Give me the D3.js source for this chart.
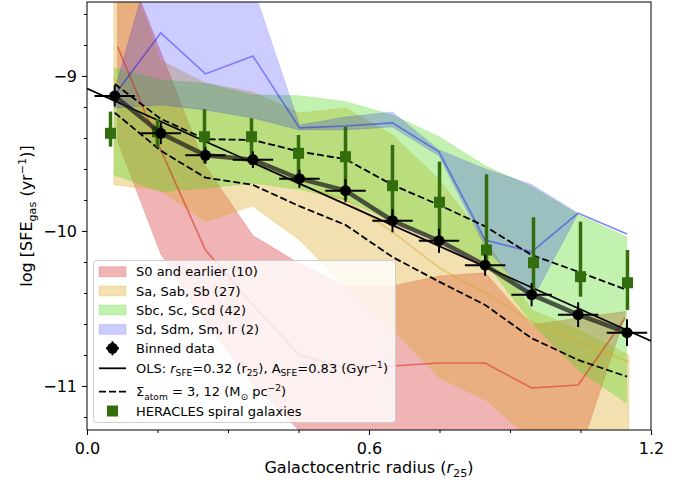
<!DOCTYPE html>
<html>
<head>
<meta charset="utf-8">
<script src="https://cdn.jsdelivr.net/npm/d3@7"></script>
<style>
body { margin: 0; background: #fff; }
svg { font-family: "DejaVu Sans", sans-serif; }
</style>
</head>
<body>
<div id="chartArea"></div>
<script>
// Binned data (all galaxies)
let binR = [0.059, 0.157, 0.252, 0.353, 0.452, 0.550, 0.650, 0.749, 0.847, 0.946, 1.045, 1.149];
let binSFE = [-9.129, -9.370, -9.512, -9.540, -9.663, -9.740, -9.934, -10.063, -10.221, -10.411, -10.540, -10.656];
let binRerr = [0.043, 0.043, 0.043, 0.043, 0.043, 0.043, 0.043, 0.043, 0.043, 0.043, 0.043, 0.043];
let binSFEerr = [0.068, 0.07, 0.054, 0.054, 0.059, 0.075, 0.075, 0.078, 0.068, 0.075, 0.08, 0.086];

// OLS fit end points
let olsR = [0, 1.2];
let olsSFE = [-9.081, -10.709];

// Sigma_atom = 3, 12 model curves
let sigma3 = [-9.052, -9.277, -9.408, -9.413, -9.488, -9.537, -9.703, -9.832, -9.97, -10.155, -10.263, -10.381];
let sigma12 = [-9.237, -9.482, -9.656, -9.703, -9.84, -9.961, -10.168, -10.327, -10.477, -10.692, -10.832, -10.94];

// HERACLES spirals
let heraR = [0.05, 0.15, 0.25, 0.35, 0.45, 0.55, 0.65, 0.75, 0.85, 0.95, 1.05, 1.15];
let heraSFE = [-9.370, -9.36, -9.392, -9.392, -9.499, -9.521, -9.708, -9.815, -10.123, -10.205, -10.295, -10.334];
let heraLo = [-9.456, -9.458, -9.563, -9.574, -9.65, -9.8, -9.94, -10.058, -10.2, -10.424, -10.424, -10.51];
let heraHi = [-9.23, -9.277, -9.215, -9.273, -9.381, -9.327, -9.445, -9.553, -9.634, -9.912, -9.94, -10.123];

// Morphological groups: percentile bands and medians
let s0R = [0.065, 0.157, 0.252, 0.353, 0.452, 0.55, 0.65, 0.749, 0.847, 0.946, 1.045, 1.145];
let s0Hi = [-8.14, -8.845, -9.58, -10.03, -10.21, -10.355, -10.355, -10.29, -10.27, -10.606, -10.561, -10.52];
let s0Lo = [-9.419, -10.148, -10.587, -10.987, -11.29, -11.54, -11.61, -11.61, -11.61, -11.61, -11.458, -10.548];
let s0Med = [-8.811, -9.477, -10.123, -10.477, -10.8, -10.884, -10.871, -10.852, -10.852, -11.013, -10.994, -10.561];

let saR = [0.057, 0.155, 0.252, 0.352, 0.452, 0.55, 0.65, 0.75, 0.848, 0.946, 1.047, 1.153];
let saHi = [-8.045, -8.897, -9.045, -9.103, -9.239, -9.206, -9.381, -9.671, -10.058, -10.51, -10.639, -10.8];
let saLo = [-9.703, -9.735, -9.94, -9.839, -10.058, -10.361, -10.639, -10.948, -11.09, -11.348, -11.542, -11.606];
let saMed = [-9.013, -9.348, -9.51, -9.555, -9.703, -9.8, -10.006, -10.239, -10.4, -10.587, -10.716, -10.845];

let sbcR = [0.058, 0.157, 0.252, 0.353, 0.452, 0.55, 0.65, 0.749, 0.847, 0.946, 1.045, 1.148];
let sbcHi = [-8.95, -9.026, -9.047, -9.123, -9.127, -9.166, -9.252, -9.392, -9.58, -9.714, -9.892, -10.037];
let sbcLo = [-9.639, -9.746, -9.725, -9.692, -9.731, -9.80, -9.94, -10.058, -10.198, -10.594, -10.897, -11.11];

let sdR = [0.059, 0.157, 0.252, 0.353, 0.452, 0.550, 0.650, 0.749, 0.847, 0.946, 1.045, 1.149];
let sdHi = [-9.09, -8.039, -8.123, -8.426, -9.316, -9.265, -9.232, -9.477, -9.6, -9.70, -9.885, -10.02];
let sdMed = [-9.12, -8.723, -8.987, -8.871, -9.335, -9.323, -9.303, -9.49, -10.058, -10.135, -9.885, -10.02];
let sdLo = [-9.206, -9.187, -9.219, -9.271, -9.348, -9.348, -9.329, -9.516, -10.1, -10.45, -9.885, -10.02];

let groupLabels = ['S0 and earlier (10)', 'Sa, Sab, Sb (27)', 'Sbc, Sc, Scd (42)', 'Sd, Sdm, Sm, Ir (2)'];
let xTicks = [0, 0.6, 1.2];
let xMinor = [0.15, 0.3, 0.45, 0.75, 0.9, 1.05];
let yTicks = [-9, -10, -11];
let yMinor = [-8.6, -8.8, -9.2, -9.4, -9.6, -9.8, -10.2, -10.4, -10.6, -10.8, -11.2];

let bands = [
    { r: s0R, lo: s0Lo, hi: s0Hi, med: s0Med, color: '#d62728', op: 0.35, medOp: 0.55 },
    { r: saR, lo: saLo, hi: saHi, med: saMed, color: '#daa520', op: 0.35, medOp: 0.45 },
    { r: sbcR, lo: sbcLo, hi: sbcHi, med: null, color: '#53d61e', op: 0.35, medOp: 0 },
    { r: sdR, lo: sdLo, hi: sdHi, med: sdMed, color: '#0000ff', op: 0.2, medOp: 0.4 }
];

let green = '#346d0e';

let svg = d3.select('#chartArea')
    .append('svg')
        .attr('width', 694)
        .attr('height', 483);

let xScale = d3.scaleLinear().domain([0, 1.2]).range([87, 651]);
let yScale = d3.scaleLinear().domain([-11.284, -8.523]).range([430, 2]);

svg.append('clipPath')
        .attr('id', 'plotClip')
    .append('rect')
        .attr('x', 87).attr('y', 2)
        .attr('width', 564).attr('height', 428);

let plot = svg.append('g').attr('clip-path', 'url(#plotClip)');

// shaded bands
bands.forEach(b => {
    let pts = b.r.map((r, i) => ({ r: r, lo: b.lo[i], hi: b.hi[i] }));
    let area = d3.area()
        .x(d => xScale(d.r))
        .y0(d => yScale(d.lo))
        .y1(d => yScale(d.hi));
    plot.append('path')
        .attr('d', area(pts))
        .attr('fill', b.color)
        .attr('fill-opacity', b.op)
        .attr('stroke', b.color)
        .attr('stroke-opacity', b.op * 0.6)
        .attr('stroke-width', 1);
});

// group medians
bands.forEach(b => {
    if (!b.med) return;
    let line = d3.line()
        .x((d, i) => xScale(b.r[i]))
        .y(d => yScale(d));
    plot.append('path')
        .attr('d', line(b.med))
        .attr('fill', 'none')
        .attr('stroke', b.color)
        .attr('stroke-opacity', b.medOp)
        .attr('stroke-width', 1.6);
});

let binLine = d3.line()
    .x((d, i) => xScale(binR[i]))
    .y(d => yScale(d));

// dashed model curves
[sigma3, sigma12].forEach(s => {
    plot.append('path')
        .attr('d', binLine(s))
        .attr('fill', 'none')
        .attr('stroke', '#000')
        .attr('stroke-width', 1.8)
        .attr('stroke-dasharray', '7,3');
});

// OLS fit
plot.append('path')
    .attr('d', d3.line().x((d, i) => xScale(olsR[i])).y(d => yScale(d))(olsSFE))
    .attr('fill', 'none')
    .attr('stroke', '#000')
    .attr('stroke-width', 1.8);

// HERACLES points
let hera = plot.append('g');
heraR.forEach((r, i) => {
    hera.append('line')
        .attr('x1', xScale(r)).attr('x2', xScale(r))
        .attr('y1', yScale(heraLo[i])).attr('y2', yScale(heraHi[i]))
        .attr('stroke', green)
        .attr('stroke-width', 3.5);
    hera.append('rect')
        .attr('x', xScale(r) - 5.5).attr('y', yScale(heraSFE[i]) - 5.5)
        .attr('width', 11).attr('height', 11)
        .attr('fill', green);
});

// binned data: connecting line, error bars, markers
plot.append('path')
    .attr('d', binLine(binSFE))
    .attr('fill', 'none')
    .attr('stroke', '#222')
    .attr('stroke-opacity', 0.75)
    .attr('stroke-width', 4.5);

let bins = plot.append('g');
binR.forEach((r, i) => {
    bins.append('line')
        .attr('x1', xScale(r - binRerr[i])).attr('x2', xScale(r + binRerr[i]))
        .attr('y1', yScale(binSFE[i])).attr('y2', yScale(binSFE[i]))
        .attr('stroke', '#000').attr('stroke-width', 2);
    bins.append('line')
        .attr('x1', xScale(r)).attr('x2', xScale(r))
        .attr('y1', yScale(binSFE[i] - binSFEerr[i])).attr('y2', yScale(binSFE[i] + binSFEerr[i]))
        .attr('stroke', '#000').attr('stroke-width', 2);
    bins.append('circle')
        .attr('cx', xScale(r)).attr('cy', yScale(binSFE[i]))
        .attr('r', 5.5)
        .attr('fill', '#000');
});

// axes
function styleAxis(g) {
    g.select('.domain').remove();
    g.selectAll('.tick line').attr('stroke', '#000').attr('stroke-width', 1);
    g.selectAll('.tick text').attr('fill', '#000').attr('font-size', 16)
        .attr('font-family', '"DejaVu Sans", sans-serif');
}

svg.append('g')
        .attr('transform', 'translate(0,430)')
        .call(d3.axisBottom(xScale).tickValues(xTicks).tickSize(5).tickPadding(7.5)
            .tickFormat(d3.format('.1f')))
        .call(styleAxis);
svg.append('g')
        .attr('transform', 'translate(0,430)')
        .call(d3.axisBottom(xScale).tickValues(xMinor).tickSize(3).tickFormat(''))
        .call(styleAxis);
svg.append('g')
        .attr('transform', 'translate(87,0)')
        .call(d3.axisLeft(yScale).tickValues(yTicks).tickSize(5).tickPadding(5)
            .tickFormat(d3.format('d')))
        .call(styleAxis);
svg.append('g')
        .attr('transform', 'translate(87,0)')
        .call(d3.axisLeft(yScale).tickValues(yMinor).tickSize(3).tickFormat(''))
        .call(styleAxis);

svg.append('rect')
    .attr('x', 87).attr('y', 2)
    .attr('width', 564).attr('height', 428)
    .attr('fill', 'none')
    .attr('stroke', '#000')
    .attr('stroke-width', 1);

// text with sub/superscripts
function rich(sel, parts, size) {
    let shift = 0;
    parts.forEach(p => {
        let target = p.sub ? size * 0.25 : (p.sup ? -size * 0.38 : 0);
        let ts = sel.append('tspan').text(p.t).attr('dy', target - shift);
        if (p.sub || p.sup) ts.attr('font-size', size * 0.7);
        if (p.it) ts.attr('font-style', 'italic');
        shift = target;
    });
}

let xLabel = svg.append('text')
    .attr('x', 369).attr('y', 473)
    .attr('text-anchor', 'middle')
    .attr('font-size', 16);
rich(xLabel, [{ t: 'Galactocentric radius (' }, { t: 'r', it: true }, { t: '25', sub: true }, { t: ')' }], 16);

let yLabel = svg.append('text')
    .attr('transform', 'translate(32,216) rotate(-90)')
    .attr('text-anchor', 'middle')
    .attr('font-size', 16);
rich(yLabel, [{ t: 'log [SFE' }, { t: 'gas', sub: true }, { t: ' (yr' }, { t: '\u22121', sup: true }, { t: ')]' }], 16);

// legend
let legend = svg.append('g');
legend.append('rect')
    .attr('x', 93.5).attr('y', 260.5)
    .attr('width', 302).attr('height', 162)
    .attr('rx', 3)
    .attr('fill', '#fff').attr('fill-opacity', 0.8)
    .attr('stroke', '#cccccc');

let rowY = [271.7, 291, 310, 329.3, 348.3, 368.3, 391.7, 411];
let fs = 13;

bands.forEach((b, i) => {
    legend.append('rect')
        .attr('x', 99).attr('y', rowY[i] - 5)
        .attr('width', 27).attr('height', 10)
        .attr('fill', b.color).attr('fill-opacity', b.op)
        .attr('stroke', b.color).attr('stroke-opacity', b.op * 0.6);
    legend.append('text')
        .attr('x', 136).attr('y', rowY[i] + 4.7)
        .attr('font-size', fs)
        .text(groupLabels[i]);
});

// binned data handle
legend.append('line').attr('x1', 106).attr('x2', 119).attr('y1', rowY[4]).attr('y2', rowY[4])
    .attr('stroke', '#000').attr('stroke-width', 2);
legend.append('line').attr('x1', 112.5).attr('x2', 112.5).attr('y1', rowY[4] - 7).attr('y2', rowY[4] + 7)
    .attr('stroke', '#000').attr('stroke-width', 2);
legend.append('circle').attr('cx', 112.5).attr('cy', rowY[4]).attr('r', 5.5).attr('fill', '#000');
legend.append('text').attr('x', 136).attr('y', rowY[4] + 4.7).attr('font-size', fs).text('Binned data');

// OLS handle
legend.append('line').attr('x1', 99).attr('x2', 126).attr('y1', rowY[5]).attr('y2', rowY[5])
    .attr('stroke', '#000').attr('stroke-width', 1.8);
let olsText = legend.append('text').attr('x', 136).attr('y', rowY[5] + 4.7).attr('font-size', fs);
rich(olsText, [{ t: 'OLS: ' }, { t: 'r', it: true }, { t: 'SFE', sub: true }, { t: '=0.32 (r' }, { t: '25', sub: true },
    { t: '), A' }, { t: 'SFE', sub: true }, { t: '=0.83 (Gyr' }, { t: '\u22121', sup: true }, { t: ')' }], fs);

// sigma handle
legend.append('line').attr('x1', 99).attr('x2', 126).attr('y1', rowY[6]).attr('y2', rowY[6])
    .attr('stroke', '#000').attr('stroke-width', 1.8).attr('stroke-dasharray', '7,3');
let sigText = legend.append('text').attr('x', 136).attr('y', rowY[6] + 4.7).attr('font-size', fs);
rich(sigText, [{ t: '\u03a3' }, { t: 'atom', sub: true }, { t: ' = 3, 12 (M' }, { t: '\u2299', sub: true },
    { t: ' pc' }, { t: '\u22122', sup: true }, { t: ')' }], fs);

// HERACLES handle
legend.append('rect').attr('x', 107).attr('y', rowY[7] - 5.5).attr('width', 11).attr('height', 11).attr('fill', green);
legend.append('text').attr('x', 136).attr('y', rowY[7] + 4.7).attr('font-size', fs).text('HERACLES spiral galaxies');
</script>
</body>
</html>
